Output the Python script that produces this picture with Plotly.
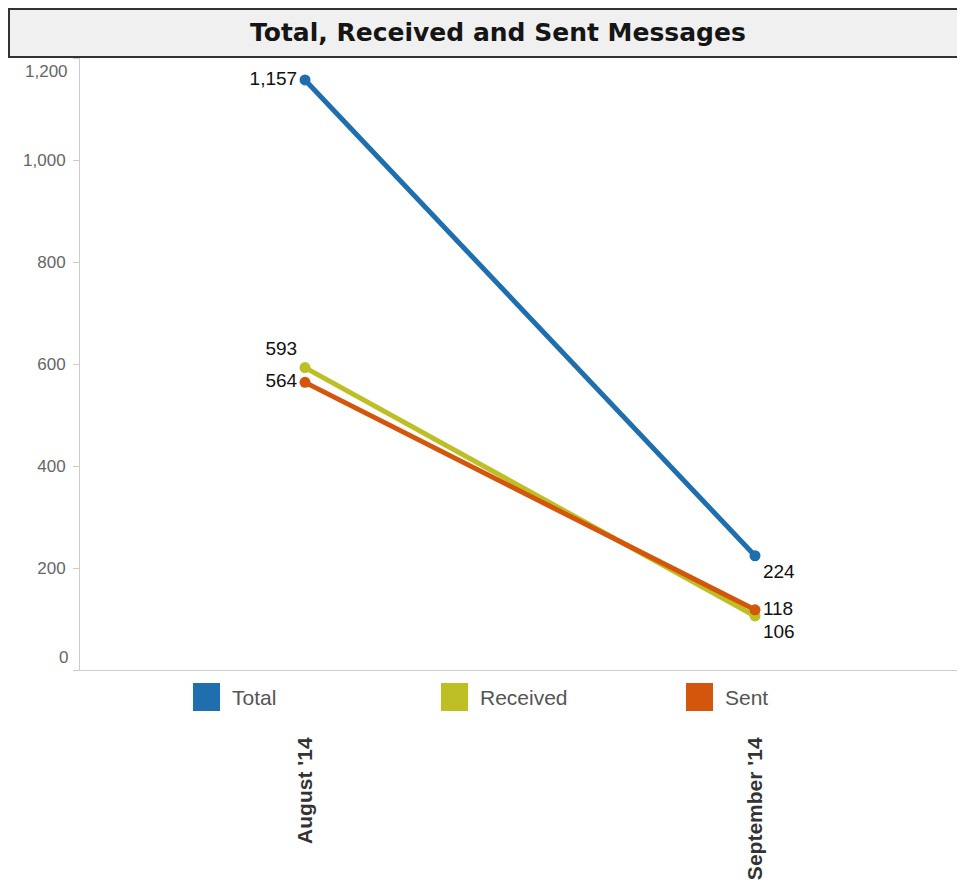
import plotly.graph_objects as go

months = ["August '14", "September '14"]
series_names = ["Total", "Received", "Sent"]
total = [1157, 224]
received = [593, 106]
sent = [564, 118]
colors = ["#1f6faf", "#bdbf24", "#d3560c"]
text_positions = [
    ["middle left", "bottom right"],
    ["top left", "bottom right"],
    ["middle left", "middle right"],
]
y_ticks = [0, 200, 400, 600, 800, 1000, 1200]

# page is rendered with an 8px body margin; coordinates below are page pixels
OFF = 8
W, H = 965, 884
L, R, T = 80 - OFF, 0, 58 - OFF
B = H - (670 - OFF)
pw = W - L - R
ph = H - T - B


def px_x(x):
    return (x - OFF - L) / pw


def px_y(y):
    return (T + ph - (y - OFF)) / ph


fig = go.Figure()
values = [total, received, sent]
for name, vals, col, tp in zip(series_names, values, colors, text_positions):
    fig.add_trace(go.Scatter(
        x=months, y=vals, name=name, mode="lines+markers+text",
        line=dict(color=col, width=5),
        marker=dict(color=col, size=11),
        text=[f"{v:,}" for v in vals],
        textposition=tp,
        textfont=dict(family="Arial", size=19, color="#111"),
        showlegend=False,
    ))

# manual legend
leg_x = [193, 441, 686]
leg_yc = 697
for name, col, lx in zip(series_names, colors, leg_x):
    fig.add_shape(type="rect", xref="paper", yref="paper",
                  x0=px_x(lx), x1=px_x(lx + 27),
                  y0=px_y(leg_yc + 14), y1=px_y(leg_yc - 14),
                  fillcolor=col, line=dict(width=0))
    fig.add_annotation(xref="paper", yref="paper", x=px_x(lx + 37),
                       y=px_y(leg_yc), text=name, showarrow=False,
                       xanchor="left", yanchor="middle",
                       font=dict(family="Arial", size=21, color="#555"))

# title box
fig.add_shape(type="rect", xref="paper", yref="paper",
              x0=px_x(9), x1=px_x(963),
              y0=px_y(57), y1=px_y(9),
              fillcolor="#f0f0f0", line=dict(color="#333", width=2), layer="below")
fig.add_annotation(xref="paper", yref="paper", x=px_x(498),
                   y=px_y(33), text="Total, Received and Sent Messages",
                   showarrow=False, xanchor="center", yanchor="middle",
                   font=dict(family="DejaVu Sans", size=25, color="#151515", weight="bold"))

# y tick labels: the end labels are nudged inward (as in the original)
tick_text = [f"{v:,}" for v in y_ticks]
tick_text_axis = ["" if v in (y_ticks[0], y_ticks[-1]) else t for v, t in zip(y_ticks, tick_text)]
for v, t in zip(y_ticks, tick_text):
    if v == y_ticks[0]:
        shift = 13
    elif v == y_ticks[-1]:
        shift = -13
    else:
        continue
    fig.add_annotation(xref="paper", yref="y", x=0, y=v, text=t, showarrow=False,
                       xanchor="right", yanchor="middle", xshift=-10, yshift=shift,
                       font=dict(family="Arial", size=17, color="#666"))

fig.update_layout(
    width=W, height=H,
    margin=dict(l=L, r=R, t=T, b=B),
    paper_bgcolor="white", plot_bgcolor="white",
    showlegend=False,
)
fig.update_xaxes(
    type="category", range=[-0.5, -0.5 + pw / 450],
    showgrid=False, zeroline=False, showline=True, linecolor="#cccccc", linewidth=1,
    ticks="", tickangle=-90, ticklabelstandoff=58,
    tickfont=dict(family="Arial", size=21, color="#333", weight="bold"),
)
fig.update_yaxes(
    range=[0, 1200], tickvals=y_ticks, ticktext=tick_text_axis,
    showgrid=False, zeroline=False, showline=True, linecolor="#cccccc", linewidth=1,
    ticks="outside", ticklen=6, tickcolor="#cccccc", ticklabelstandoff=4,
    tickfont=dict(family="Arial", size=17, color="#666"),
)
fig.write_html("out.html")
